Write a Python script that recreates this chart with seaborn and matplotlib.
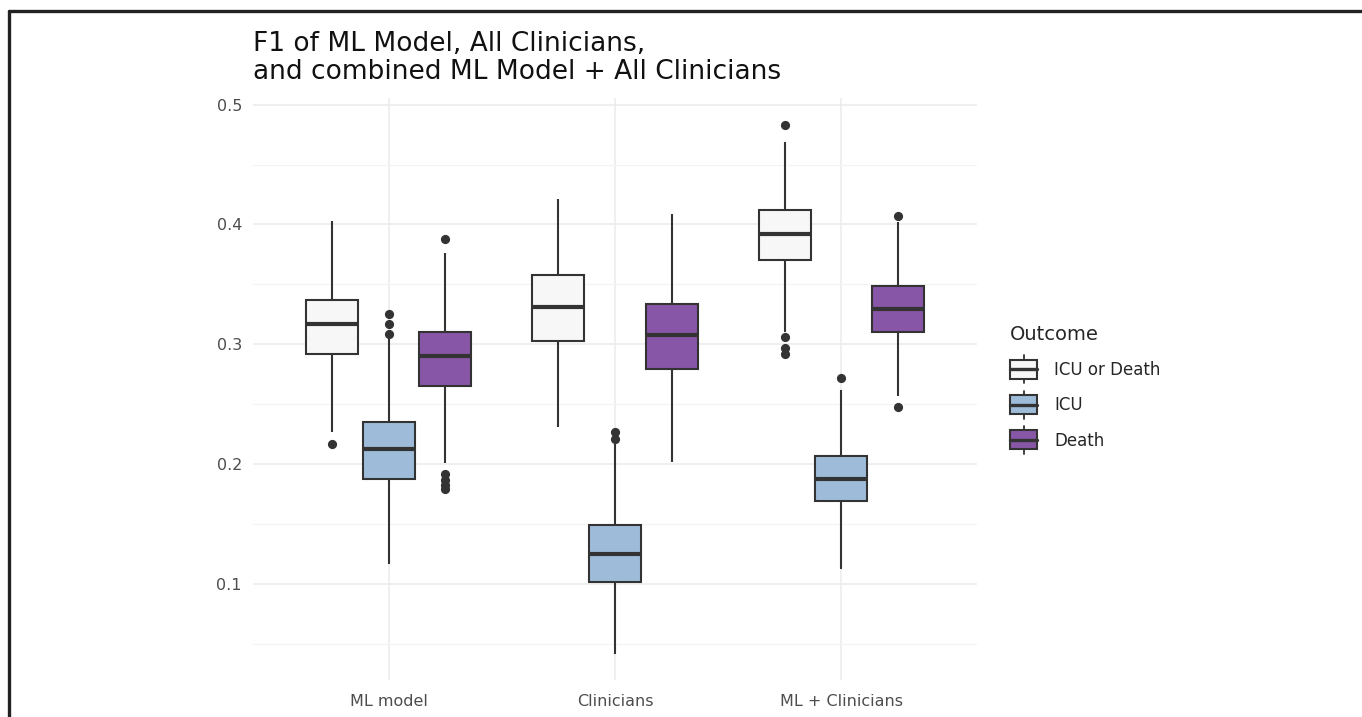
import numpy as np
import pandas as pd
import matplotlib
matplotlib.use("Agg")
import matplotlib.pyplot as plt
import seaborn as sns
from matplotlib.patches import Patch, Rectangle
from matplotlib.lines import Line2D
from matplotlib.legend_handler import HandlerBase

# box summary values (F1)
groups = ["ML model", "Clinicians", "ML + Clinicians"]
outcomes = ["ICU or Death", "ICU", "Death"]
colors = ["#f7f7f7", "#9ebcda", "#8856a7"]

# one row per (group, outcome): whisker low, q1, median, q3, whisker high
whisk_lo = [[0.227, 0.117, 0.201], [0.231, 0.042, 0.202], [0.310, 0.1125, 0.2565]]
q1 = [[0.292, 0.1875, 0.265], [0.303, 0.102, 0.2795], [0.370, 0.169, 0.310]]
median = [[0.317, 0.2125, 0.290], [0.331, 0.125, 0.308], [0.392, 0.1877, 0.3296]]
q3 = [[0.337, 0.2355, 0.310], [0.358, 0.149, 0.3336], [0.412, 0.207, 0.3485]]
whisk_hi = [[0.403, 0.306, 0.376], [0.421, 0.2165, 0.409], [0.469, 0.262, 0.402]]
outliers = [
    [[0.217], [0.309, 0.317, 0.325], [0.388, 0.192, 0.187, 0.183, 0.179]],
    [[], [0.221, 0.227], []],
    [[0.483, 0.306, 0.297, 0.292], [0.272], [0.407, 0.248]],
]

# long table whose quartiles / whiskers reproduce the read values
rows = []
rep = 20
for gi, g in enumerate(groups):
    for oi, o in enumerate(outcomes):
        vals = ([whisk_lo[gi][oi]] + [q1[gi][oi]] * rep + [median[gi][oi]] * rep
                + [q3[gi][oi]] * rep + [whisk_hi[gi][oi]] + outliers[gi][oi])
        for v in vals:
            rows.append({"group": g, "Outcome": o, "F1": v})
df = pd.DataFrame(rows)

sns.set_style("white")
plt.rcParams["font.family"] = ["DejaVu Sans"]

fig = plt.figure(figsize=(13.62, 7.17), dpi=100)
ax = fig.add_axes([253 / 1362, 37 / 717, 724 / 1362, 582 / 717])

line_c = "#333333"
sns.boxplot(data=df, x="group", y="F1", hue="Outcome", order=groups, hue_order=outcomes,
            palette=colors, width=0.75, gap=0.08, linewidth=1.5, linecolor=line_c,
            whis=1.5, saturation=1, legend=False, ax=ax, showcaps=False,
            medianprops={"color": line_c, "linewidth": 3},
            flierprops={"marker": "o", "markersize": 5.6, "markerfacecolor": line_c,
                        "markeredgecolor": line_c},
            zorder=3)

ax.set_xlim(-0.6, 2.6)
ax.set_ylim(0.020, 0.5055)
ax.set_yticks([0.1, 0.2, 0.3, 0.4, 0.5])
ax.set_yticklabels(["0.1", "0.2", "0.3", "0.4", "0.5"])
ax.set_yticks([0.05, 0.15, 0.25, 0.35, 0.45], minor=True)
ax.grid(True, which="major", color="#ebebeb", linewidth=1.1, zorder=0)
ax.grid(True, which="minor", axis="y", color="#f3f3f3", linewidth=0.8, zorder=0)
ax.set_axisbelow(True)
for s in ax.spines.values():
    s.set_visible(False)
ax.tick_params(axis="both", which="both", length=0, labelsize=11.5, labelcolor="#4d4d4d")
ax.tick_params(axis="x", pad=10)
ax.tick_params(axis="y", pad=8)
ax.set_xlabel("")
ax.set_ylabel("")

fig.text(253 / 1362, 1 - 31 / 717,
         "F1 of ML Model, All Clinicians,\nand combined ML Model + All Clinicians",
         ha="left", va="top", fontsize=19, color="#111111", linespacing=1.1)


class BoxHandler(HandlerBase):
    def create_artists(self, legend, orig_handle, xdescent, ydescent, width, height,
                       fontsize, trans):
        x0, y0 = -xdescent, -ydescent
        cx = x0 + width / 2
        art = [
            Line2D([cx, cx], [y0 - 0.32 * height, y0 + 1.32 * height], color=line_c,
                   linewidth=1.3, transform=trans),
            Rectangle((x0, y0 - 0.05 * height), width, height * 1.1,
                      facecolor=orig_handle.get_facecolor(),
                      edgecolor=line_c, linewidth=1.5, transform=trans),
            Line2D([x0, x0 + width], [y0 + height / 2] * 2, color=line_c,
                   linewidth=2.4, transform=trans),
        ]
        return art


handles = [Patch(facecolor=c) for c in colors]
leg = fig.legend(handles, outcomes, handler_map={Patch: BoxHandler()},
                 loc="upper left", bbox_to_anchor=(995 / 1362, 1 - 310 / 717),
                 frameon=False, title="Outcome", title_fontsize=14, fontsize=12,
                 handlelength=1.62, handleheight=1.2, labelspacing=1.03,
                 handletextpad=1.05, alignment="left")
leg._legend_box.sep = 12

# frame edges visible in the original image
fig.add_artist(Line2D([9 / 1362, 9 / 1362], [0, 1 - 11 / 717], color="#222222",
                      linewidth=2.4, transform=fig.transFigure))
fig.add_artist(Line2D([9 / 1362, 1], [1 - 11 / 717, 1 - 11 / 717], color="#222222",
                      linewidth=2.4, transform=fig.transFigure))

fig.savefig("out.png", dpi=100)
